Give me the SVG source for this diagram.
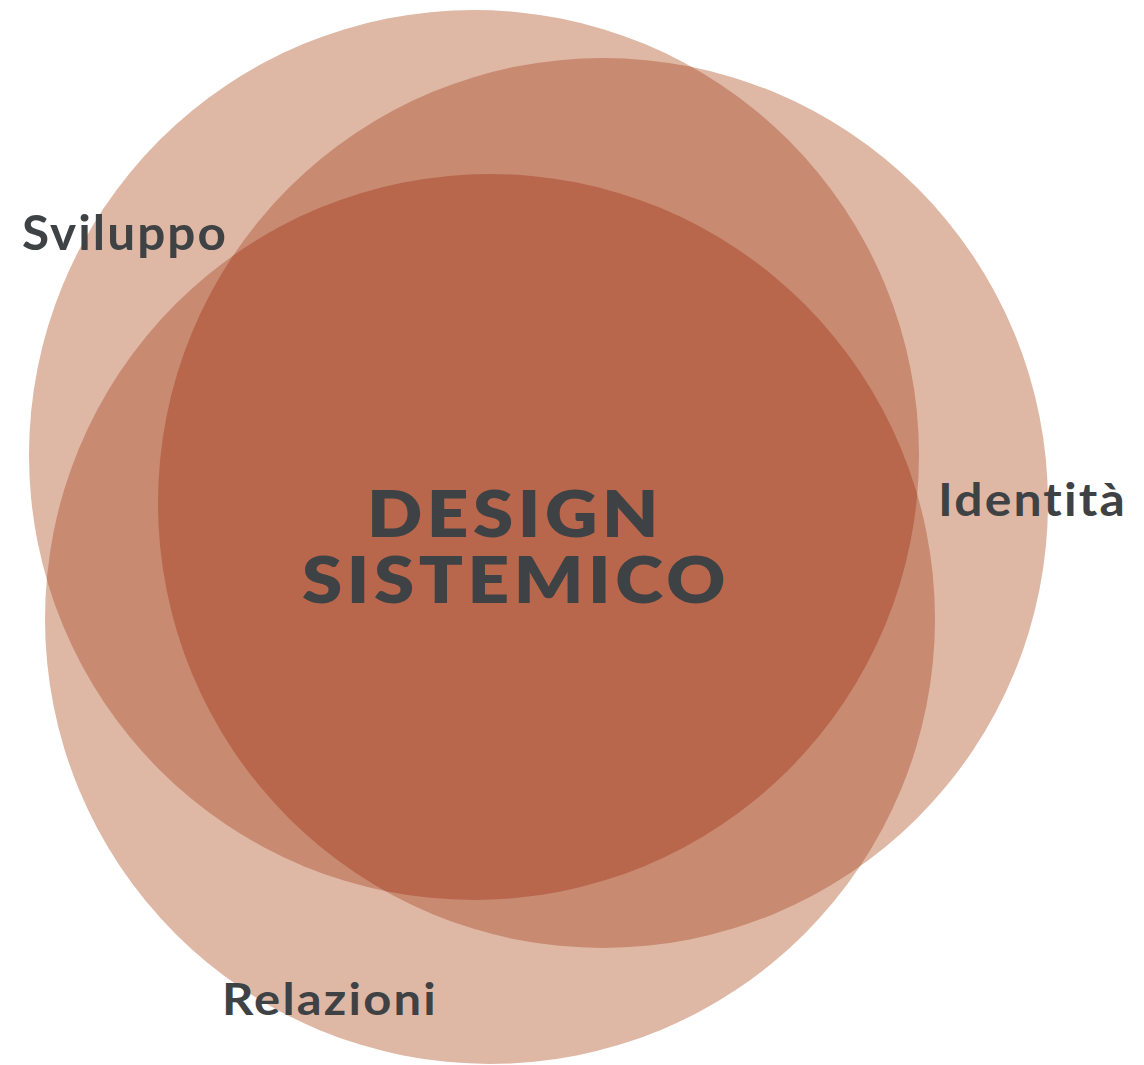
<svg xmlns="http://www.w3.org/2000/svg" width="1144" height="1065" viewBox="0 0 1144 1065">
  <style>
    .light { fill: #dfb8a5; }
    .mid { fill: #c88a71; }
    .dark { fill: #b8674c; }
    .label { font-family: Lato, "Open Sans", "Liberation Sans", sans-serif; font-weight: 700; fill: #3f4244; letter-spacing: 2px; font-variant-ligatures: none; font-feature-settings: "liga" 0, "clig" 0; }
    .title { font-family: Lato, "Open Sans", "Liberation Sans", sans-serif; font-weight: 800; fill: #3f4244; font-size: 64px; text-anchor: middle; letter-spacing: 4px; font-variant-ligatures: none; }
  </style>
  <defs>
    <circle id="cA" cx="474" cy="455" r="445"/>
    <circle id="cB" cx="603" cy="503" r="445"/>
    <circle id="cC" cx="490" cy="619" r="445"/>
    <clipPath id="clipA"><use href="#cA"/></clipPath>
    <clipPath id="clipB"><use href="#cB"/></clipPath>
  </defs>
  <rect width="1144" height="1065" fill="#ffffff"/>

  <g id="sviluppo">
    <use href="#cA" class="light"/>
    <text class="label" x="22" y="250" font-size="48" textLength="206" lengthAdjust="spacingAndGlyphs">Sviluppo</text>
  </g>
  <g id="identita">
    <use href="#cB" class="light"/>
    <text class="label" x="938" y="516" font-size="46" textLength="189" lengthAdjust="spacingAndGlyphs">Identità</text>
  </g>
  <g id="relazioni">
    <use href="#cC" class="light"/>
    <text class="label" x="222" y="1015" font-size="44" textLength="216" lengthAdjust="spacingAndGlyphs">Relazioni</text>
  </g>

  <g id="overlaps">
    <use href="#cB" class="mid" clip-path="url(#clipA)"/>
    <use href="#cC" class="mid" clip-path="url(#clipA)"/>
    <use href="#cC" class="mid" clip-path="url(#clipB)"/>
    <g clip-path="url(#clipA)">
      <use href="#cC" class="dark" clip-path="url(#clipB)"/>
    </g>
  </g>

  <g id="design-sistemico">
    <text class="title"><tspan x="515" y="537" textLength="296" lengthAdjust="spacingAndGlyphs">DESIGN</tspan><tspan x="516" y="603" textLength="428" lengthAdjust="spacingAndGlyphs">SISTEMICO</tspan></text>
  </g>
</svg>
